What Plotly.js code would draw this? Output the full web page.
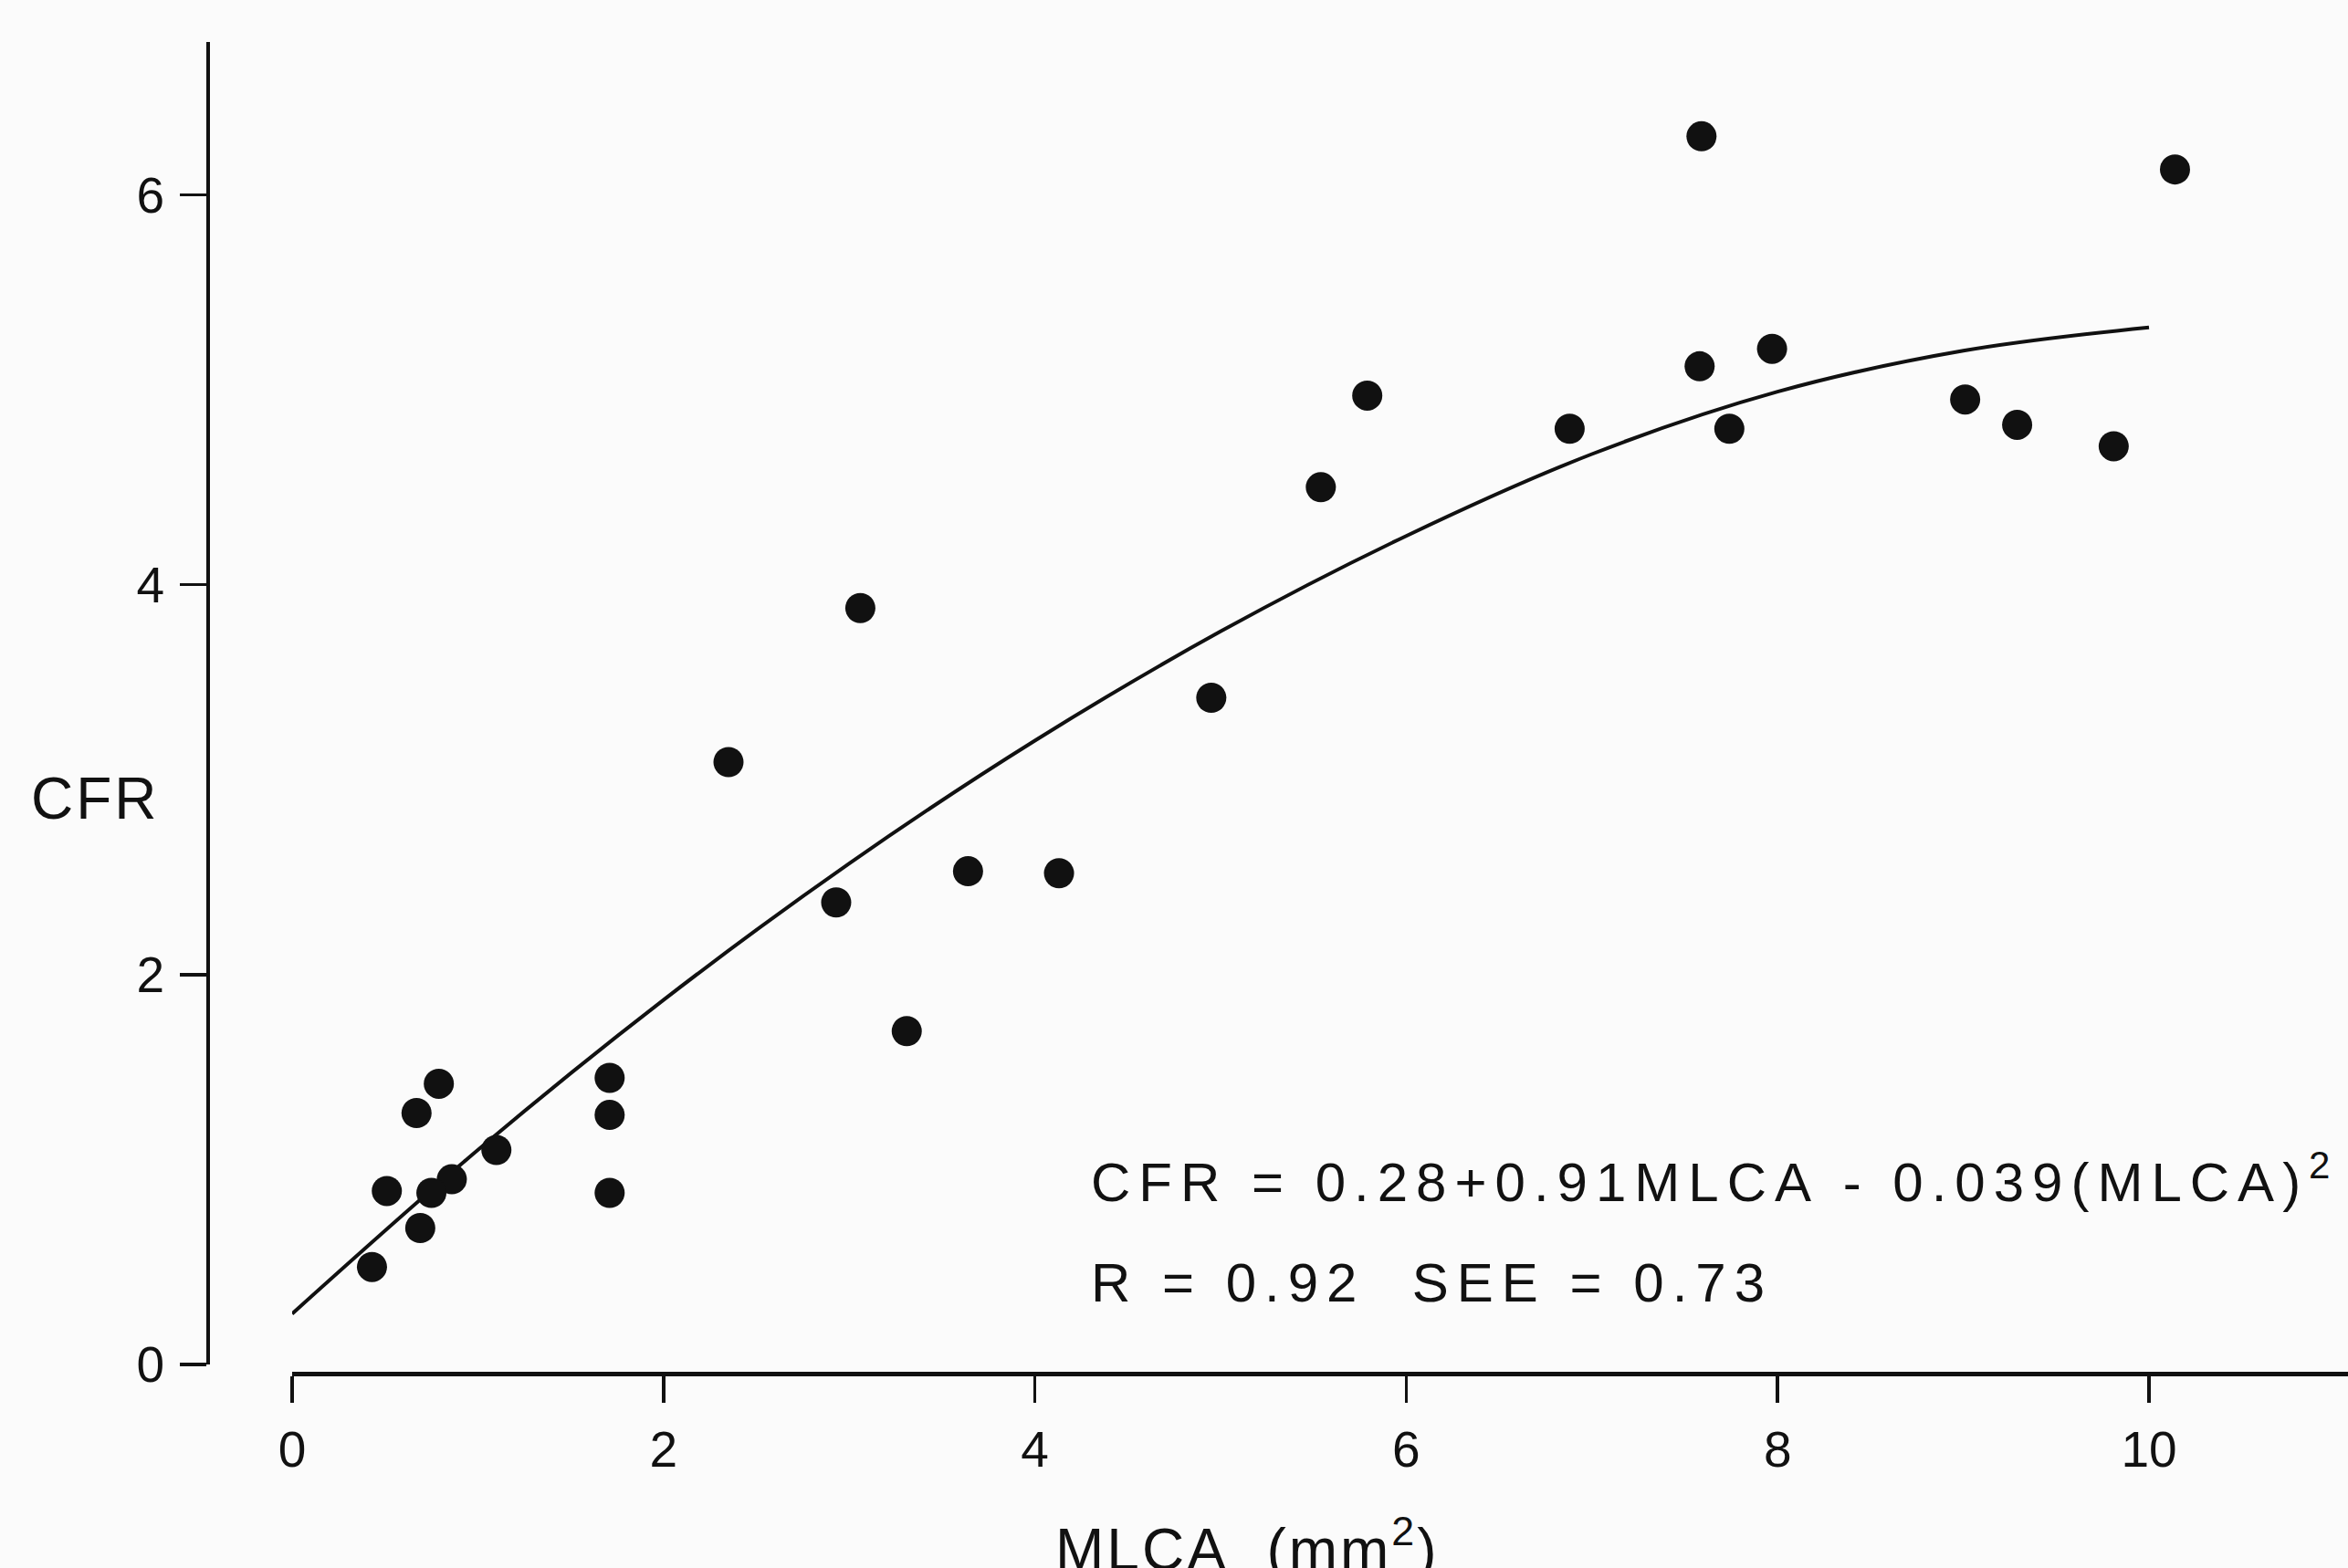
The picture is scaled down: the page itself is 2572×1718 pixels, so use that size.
<!DOCTYPE html>
<html>
<head>
<meta charset="utf-8">
<script src="https://cdn.plot.ly/plotly-3.0.1.min.js"></script>
<style>
  html, body { margin: 0; padding: 0; background: #fbfbfb; }
  #chart { width: 2572px; height: 1718px; }
</style>
</head>
<body>
<div id="chart"></div>
<script>
// Scatter data
const mlca = [7.59, 10.14, 7.58, 7.97, 5.79, 6.88, 7.74, 9.01, 9.29, 9.81, 5.54, 3.06, 4.95, 2.35, 2.93, 3.64, 4.13, 3.31, 1.71, 1.71, 1.71, 0.79, 0.67, 1.10, 0.86, 0.75, 0.51, 0.69, 0.43];
const cfr  = [6.30, 6.13, 5.12, 5.21, 4.97, 4.80, 4.80, 4.95, 4.82, 4.71, 4.50, 3.88, 3.42, 3.09, 2.37, 2.53, 2.52, 1.71, 1.47, 1.28, 0.88, 1.44, 1.29, 1.10, 0.95, 0.88, 0.89, 0.70, 0.50];

// Fitted curve
const fitX = [0, 1, 2, 3, 4, 5, 6, 7, 8, 9, 10];
const fitY = [0.26, 1.10, 1.87, 2.57, 3.20, 3.76, 4.25, 4.67, 4.99, 5.20, 5.32];

// Tick labels
const xTicks = [0, 2, 4, 6, 8, 10];
const yTicks = [0, 2, 4, 6];

// Texts
const yLabel = "CFR";
const xLabel = "MLCA&nbsp;&nbsp;(mm<sup>2</sup>)";
const eqLine1 = "CFR&nbsp;=&nbsp;0.28+0.91MLCA&nbsp;-&nbsp;0.039(MLCA)<sup>2</sup>";
const eqLine2 = "R&nbsp;=&nbsp;0.92&nbsp;&nbsp;SEE&nbsp;=&nbsp;0.73";

const FONT = "Liberation Sans, Arial, sans-serif";
const W = 2572, H = 1718;

const traces = [
  {
    type: "scatter", mode: "lines",
    x: fitX, y: fitY,
    line: { color: "#111", width: 4, shape: "spline", smoothing: 1 },
    hoverinfo: "skip", showlegend: false
  },
  {
    type: "scatter", mode: "markers",
    x: mlca, y: cfr,
    marker: { color: "#111", size: 33, line: { width: 0 } },
    cliponaxis: false, showlegend: false
  }
];

const layout = {
  width: W, height: H,
  margin: { l: 0, r: 0, t: 0, b: 0, pad: 0 },
  paper_bgcolor: "#fbfbfb",
  plot_bgcolor: "rgba(0,0,0,0)",
  font: { family: FONT, color: "#111" },
  showlegend: false,
  xaxis: {
    domain: [320 / W, 1],
    range: [0, (W - 320) / 203.4],
    anchor: "free",
    position: 1 - 1505 / H,
    showline: true, linecolor: "#111", linewidth: 5,
    showgrid: false, zeroline: false,
    ticks: "outside", ticklen: 29, tickwidth: 3.5, tickcolor: "#111",
    tickmode: "array", tickvals: xTicks, ticktext: xTicks.map(String),
    tickfont: { family: FONT, size: 55, color: "#111" },
    ticklabelstandoff: 4
  },
  yaxis: {
    domain: [1 - 1495 / H, 1 - 46 / H],
    range: [0, (1495 - 46) / 213.6],
    anchor: "free",
    position: 228 / W,
    side: "left",
    showline: true, linecolor: "#111", linewidth: 4,
    showgrid: false, zeroline: false,
    ticks: "outside", ticklen: 29, tickwidth: 3.5, tickcolor: "#111",
    tickmode: "array", tickvals: yTicks, ticktext: yTicks.map(String),
    tickfont: { family: FONT, size: 55, color: "#111" },
    ticklabelstandoff: 6
  },
  annotations: [
    {
      xref: "paper", yref: "paper", x: 32 / W, y: 1 - 913 / H,
      xanchor: "left", yanchor: "bottom", showarrow: false,
      text: '<span style="letter-spacing:3px">' + yLabel + '</span>',
      font: { family: FONT, size: 64, color: "#111" }
    },
    {
      xref: "paper", yref: "paper", x: 1154 / W, y: 1 - 1736 / H,
      xanchor: "left", yanchor: "bottom", showarrow: false,
      text: '<span style="letter-spacing:3px">' + xLabel + '</span>',
      font: { family: FONT, size: 64, color: "#111" }
    },
    {
      xref: "paper", yref: "paper", x: 1193 / W, y: 1 - 1331 / H,
      xanchor: "left", yanchor: "bottom", showarrow: false,
      text: '<span style="letter-spacing:9px">' + eqLine1 + '</span>',
      font: { family: FONT, size: 60, color: "#111" }
    },
    {
      xref: "paper", yref: "paper", x: 1193 / W, y: 1 - 1441 / H,
      xanchor: "left", yanchor: "bottom", showarrow: false,
      text: '<span style="letter-spacing:9px">' + eqLine2 + '</span>',
      font: { family: FONT, size: 60, color: "#111" }
    }
  ]
};

Plotly.newPlot("chart", traces, layout, { staticPlot: true, displayModeBar: false });
</script>
</body>
</html>
